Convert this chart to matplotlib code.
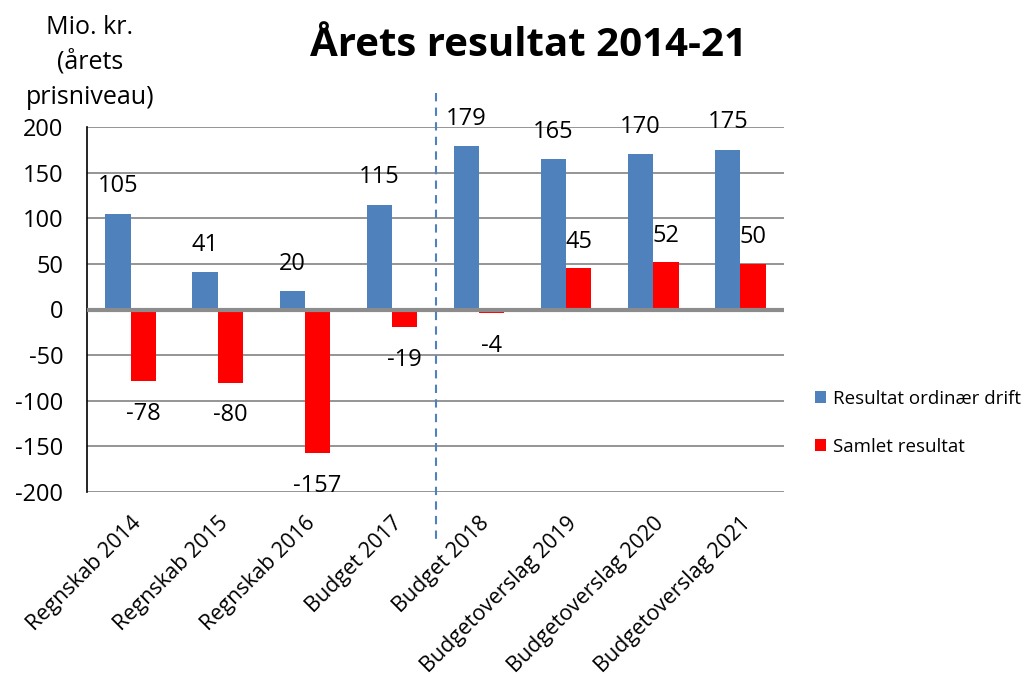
import matplotlib
matplotlib.use("Agg")
import matplotlib.pyplot as plt
import numpy as np

categories = ["Regnskab 2014", "Regnskab 2015", "Regnskab 2016", "Budget 2017",
              "Budget 2018", "Budgetoverslag 2019", "Budgetoverslag 2020", "Budgetoverslag 2021"]
drift = [105, 41, 20, 115, 179, 165, 170, 175]
samlet = [-78, -80, -157, -19, -4, 45, 52, 50]
series_names = ["Resultat ordinær drift", "Samlet resultat"]
yticks = [-200, -150, -100, -50, 0, 50, 100, 150, 200]
ylabel_lines = ["Mio. kr.", "(årets", "prisniveau)"]

plt.rcParams['font.family'] = ['Open Sans', 'DejaVu Sans']

W, H = 1033, 686
fig = plt.figure(figsize=(W / 100, H / 100), dpi=100)
ax = fig.add_axes([87 / W, 1 - 492 / H, (784 - 87) / W, (492 - 127) / H])

x = np.arange(len(categories))
w = 0.29
b1 = ax.bar(x - w/2, drift, w, color="#4F81BD", label=series_names[0], zorder=3)
b2 = ax.bar(x + w/2, samlet, w, color="#FF0000", label=series_names[1], zorder=3)

ax.set_xlim(-0.5, len(categories) - 0.5)
ax.set_ylim(-200, 200)
ax.set_yticks(yticks)
ax.set_yticklabels([str(v) for v in yticks], fontsize=17)
ax.tick_params(axis='y', length=0, pad=17)
ax.tick_params(axis='x', length=0, pad=15)
for v in yticks:
    if v == 0:
        ax.axhline(v, color="#8c8c8c", lw=3, zorder=4)
    else:
        ax.axhline(v, color="#8c8c8c", lw=1.3, zorder=1)

for s in ["top", "right", "bottom"]:
    ax.spines[s].set_visible(False)
ax.spines["left"].set_color("black")
ax.spines["left"].set_linewidth(1.2)

ax.set_xticks(x)
ax.set_xticklabels(categories, rotation=45, ha='right', rotation_mode='anchor', fontsize=15.5)

for xi, v in zip(x, drift):
    ax.text(xi - w/2, v + 30, str(v), ha='center', va='center', fontsize=17)
for xi, v in zip(x, samlet):
    if v >= 0:
        ax.text(xi + w/2, v + 29, str(v), ha='center', va='center', fontsize=17)
    else:
        ax.text(xi + w/2, v - 36, str(v), ha='center', va='center', fontsize=17)

ax.plot([3.5, 3.5], [237, -253], ls=(0, (4, 3)), color="#4F81BD", lw=1.5, clip_on=False, zorder=5)

for i, (line, yp) in enumerate(zip(ylabel_lines, [28, 62, 97])):
    fig.text(90 / W, 1 - yp / H, line, ha='center', va='center', fontsize=18)
fig.text(528 / W, 1 - 45 / H, "Årets resultat 2014-21", ha='center', va='center', fontsize=29, fontweight='bold')

fig.legend(handles=[b1, b2], labels=series_names, loc='center left', bbox_to_anchor=(798 / W, 1 - 423 / H),
           frameon=False, fontsize=13.5, handlelength=0.6, handleheight=0.6, handletextpad=0.35,
           labelspacing=1.6)

fig.savefig("out.png", dpi=100)
